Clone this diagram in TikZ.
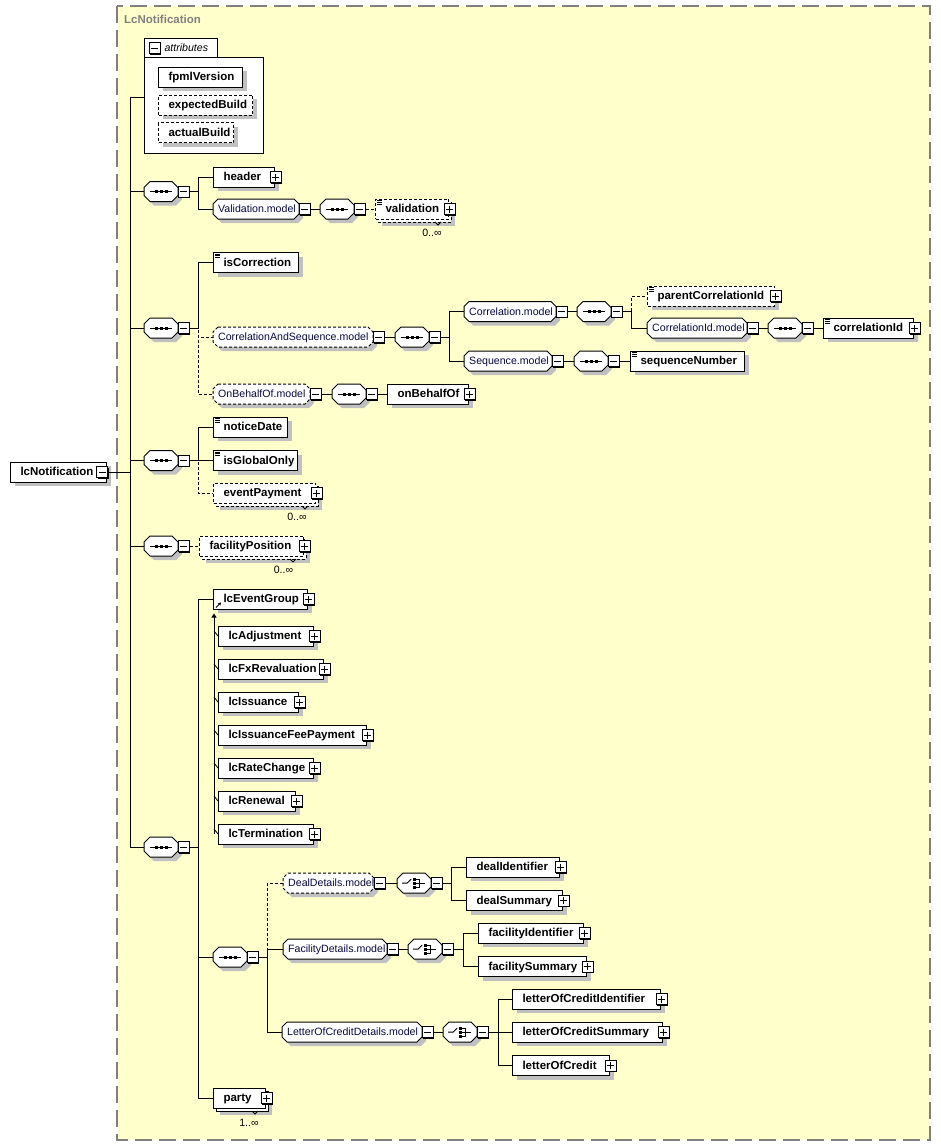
\documentclass[tikz,border=0pt]{standalone}
\usepackage{fontspec}
\setmainfont{Liberation Sans}
\usetikzlibrary{shadows,arrows.meta}
\definecolor{bgy}{RGB}{255,255,204}
\definecolor{bdg}{RGB}{128,128,128}
\definecolor{shg}{RGB}{192,192,192}
\definecolor{mdl}{RGB}{8,8,64}
\newcommand\bfnt{\fontsize{11.5}{13}\selectfont\bfseries}
\newcommand\rfnt{\fontsize{10.6}{12}\selectfont}
\tikzset{
 x=1pt,y=-1pt,
 lnk/.style={line width=1pt},
 shd/.style={drop shadow={shadow xshift=4pt,shadow yshift=-4pt,fill=shg,opacity=1}},
 dsh/.style={dash pattern=on 3pt off 2pt},
 elbox/.style={draw,lnk,fill=white,rectangle,minimum height=20,inner ysep=0,inner xsep=10,text height=8,text depth=1,align=left,font=\bfnt,anchor=west},
 mdtext/.style={rectangle,minimum height=20,inner ysep=0,inner xsep=5,text height=8,text depth=1,align=left,font=\rfnt,text=mdl,anchor=west},
 cpnode/.style={rectangle,minimum width=34,minimum height=20,inner sep=0,anchor=west},
 sqbox/.style={draw,fill=white,rectangle,minimum size=11,inner sep=0,line width=1pt,drop shadow={shadow xshift=1pt,shadow yshift=-1pt,fill=black,opacity=1}},
 plusb/.style={sqbox,path picture={\draw[line width=1pt] ([xshift=2pt]path picture bounding box.west)--([xshift=-2pt]path picture bounding box.east) ([yshift=-2pt]path picture bounding box.north)--([yshift=2pt]path picture bounding box.south);}},
 minusb/.style={sqbox,path picture={\draw[line width=1pt] ([xshift=2pt]path picture bounding box.west)--([xshift=-2pt]path picture bounding box.east);}},
 mult/.style={font=\rfnt,inner sep=0},
}
% octagon: [style]{x}{cy}{w}{chamfer}
\newcommand\Oct[5][]{%
 \fill[shg,xshift=4pt,yshift=-4pt] ({#2+#5},{#3-10}) -- ({#2+#4-#5},{#3-10}) -- ({#2+#4},{#3-10+#5}) -- ({#2+#4},{#3+10-#5}) -- ({#2+#4-#5},{#3+10}) -- ({#2+#5},{#3+10}) -- (#2,{#3+10-#5}) -- (#2,{#3-10+#5}) -- cycle;
 \draw[lnk,fill=white,#1] ({#2+#5},{#3-10}) -- ({#2+#4-#5},{#3-10}) -- ({#2+#4},{#3-10+#5}) -- ({#2+#4},{#3+10-#5}) -- ({#2+#4-#5},{#3+10}) -- ({#2+#5},{#3+10}) -- (#2,{#3+10-#5}) -- (#2,{#3-10+#5}) -- cycle;}
\newcommand\Mi[1]{\node[minusb] (#1m) at ([xshift=5.5pt]#1.east) {};}
\newcommand\Pl[1]{\node[plusb] (#1p) at ([xshift=0.5pt]#1.east) {};}
% element: [extra]{name}{x}{cy}{w}{text}
\newcommand\El[6][shd]{%
 \pgfmathsetmacro\tw{#5-20}%
 \node[elbox,minimum width=#5,text width=\tw pt,#1] (#2) at (#3,#4) {#6};}
% model group: [style]{name}{x}{cy}{w}{text}
\newcommand\Md[6][]{%
 \Oct[#1]{#3}{#4}{#5}{5}%
 \pgfmathsetmacro\tw{#5-10}%
 \node[mdtext,minimum width=#5,text width=\tw pt] (#2) at (#3,#4) {#6};
 \Mi{#2}}
% sequence compositor
\newcommand\Sq[3]{%
 \Oct{#2}{#3}{34}{6}%
 \node[cpnode] (#1) at (#2,#3) {};
 \draw[lnk] ([xshift=-11pt]#1.center) -- ([xshift=11pt]#1.center);
 \fill ([xshift=-6.5pt,yshift=1.5pt]#1.center) rectangle ++(3,3);
 \fill ([xshift=-1.5pt,yshift=1.5pt]#1.center) rectangle ++(3,3);
 \fill ([xshift=3.5pt,yshift=1.5pt]#1.center) rectangle ++(3,3);
 \Mi{#1}}
% choice compositor
\newcommand\Ch[3]{%
 \Oct{#2}{#3}{34}{6}%
 \node[cpnode] (#1) at (#2,#3) {};
 \draw[lnk] ([xshift=-12pt]#1.center) -- ([xshift=-7pt]#1.center) -- ([xshift=-3pt,yshift=4pt]#1.center);
 \fill ([xshift=-1pt,yshift=5.5pt]#1.center) rectangle ++(3,3);
 \fill ([xshift=-1pt,yshift=1.5pt]#1.center) rectangle ++(3,3);
 \fill ([xshift=-1pt,yshift=-2.5pt]#1.center) rectangle ++(3,3);
 \draw[lnk] ([xshift=2pt,yshift=4pt]#1.center) -- ++(3,0) -- ++(0,8) -- ++(-3,0);
 \draw[lnk] ([xshift=2pt]#1.center) -- ([xshift=11pt]#1.center);
 \Mi{#1}}
% stack behind multi-occurrence element: [style]{x}{cy}{w}
\newcommand\Stk[4][dsh]{%
 \fill[shg] ({#2+7},{#3-3}) rectangle ({#2+#4+7},{#3+17});
 \draw[lnk,fill=white,#1] ({#2+3},{#3-7}) rectangle ({#2+#4+3},{#3+13});
 \draw[line width=0.8pt] ({#2+#4-13},{#3+13}) -- ({#2+#4-10},{#3+16}) -- ({#2+#4-7},{#3+13});}
% simple type icon
\newcommand\Ic[1]{\draw[line width=0.7pt] ([xshift=2pt,yshift=-2pt]#1.north west) -- ++(5,0) ([xshift=2pt,yshift=-3.8pt]#1.north west) -- ++(5,0) ([xshift=2pt,yshift=-5.6pt]#1.north west) -- ++(5,0);}

\begin{document}
\begin{tikzpicture}
\useasboundingbox (0,0) rectangle (941,1146);
\fill[white] (0,0) rectangle (941,1146);
\draw[bdg,line width=1.3pt,dash pattern=on 17pt off 7pt,fill=bgy] (117,6) rectangle (930,1140);
\node[font=\bfnt,text=bdg,anchor=west,inner sep=0] (title) at (124,19) {LcNotification};

% root
\El{root}{10}{472}{96}{lcNotification}
\node[minusb] (rootm) at ([xshift=-5pt]root.east) {};

% attributes
\node[draw,lnk,fill=white,rectangle,minimum width=119,minimum height=96,anchor=north west,inner sep=0] (attr) at (144,57) {};
\node[draw,lnk,fill=white,rectangle,minimum height=19,inner ysep=0,inner xsep=5,text height=8,text depth=1,font=\rfnt\itshape,anchor=south west] (attrtab) at (144,57.5) {\makebox[63pt][l]{\hspace*{15pt}attributes}};
\node[minusb] (attrtabm) at (154.5,48) {};
\El{fpml}{158}{77}{84}{fpmlVersion}
\El[shd,dsh]{expb}{158}{105}{94}{expectedBuild}
\El[shd,dsh]{actb}{158}{132.5}{75}{actualBuild}

% seq 1
\Sq{sa}{144}{191.5}
\El{header}{213}{177}{61}{header}\Pl{header}
\Md{vmod}{213}{209}{86}{Validation.model}
\Sq{vseq}{320}{209}
\Stk{375}{209}{73}
\El[dsh]{validation}{375}{209}{73}{validation}\Pl{validation}\Ic{validation}
\node[mult] (validationmul) at (432,233) {0..∞};

% seq 2
\Sq{sb}{144}{328}
\El{iscor}{213}{262.5}{85}{isCorrection}\Ic{iscor}
\Md[dsh]{cas}{213}{337}{160}{CorrelationAndSequence.model}
\Sq{cseq}{395}{337}
\Md{corr}{464}{311.5}{92}{Correlation.model}
\Sq{crseq}{577}{311.5}
\El[shd,dsh]{pcid}{647}{296}{127}{parentCorrelationId}\Pl{pcid}\Ic{pcid}
\Md{cidmod}{647}{328}{100}{CorrelationId.model}
\Sq{cidseq}{768}{328}
\El{cid}{823}{328}{90}{correlationId}\Pl{cid}\Ic{cid}
\Md{seqmod}{464}{361}{88}{Sequence.model}
\Sq{sqseq}{574}{361}
\El{sqn}{630}{361}{114}{sequenceNumber}\Ic{sqn}
\Md[dsh]{obomod}{213}{394}{97}{OnBehalfOf.model}
\Sq{oboseq}{332}{394}
\El{obo}{387}{394}{81}{onBehalfOf}\Pl{obo}

% seq 3
\Sq{sc}{144}{460.5}
\El{ndate}{213}{427}{74}{noticeDate}\Ic{ndate}
\El{igo}{213}{460.5}{84}{isGlobalOnly}\Ic{igo}
\Stk{213}{493}{102}
\El[dsh]{evp}{213}{493}{102}{eventPayment}\Pl{evp}
\node[mult] (evpmul) at (297,517) {0..∞};

% seq 4
\Sq{sd}{144}{546}
\Stk{199}{546}{104}
\El[dsh]{facpos}{199}{546}{104}{facilityPosition}\Pl{facpos}
\node[mult] (facposmul) at (283.5,570) {0..∞};

% seq 5
\Sq{se}{144}{847}
\El{evg}{213}{599}{94}{lcEventGroup}\Pl{evg}
\draw[line width=1pt,-{Stealth[length=3pt,width=3.5pt]}] ([xshift=3pt,yshift=2pt]evg.south west) -- ++(5,-5);
\El{ladj}{218}{636}{95}{lcAdjustment}\Pl{ladj}
\El{lfx}{218}{669}{105}{lcFxRevaluation}\Pl{lfx}
\El{liss}{218}{702}{80}{lcIssuance}\Pl{liss}
\El{lifp}{218}{735}{148}{lcIssuanceFeePayment}\Pl{lifp}
\El{lrc}{218}{768}{95}{lcRateChange}\Pl{lrc}
\El{lren}{218}{801}{77}{lcRenewal}\Pl{lren}
\El{lterm}{218}{834}{95}{lcTermination}\Pl{lterm}
\draw[lnk,-{Triangle[length=4pt,width=5pt]}] ([xshift=-4pt]lterm.west) -- ([xshift=1pt,yshift=-4pt]evg.south west);
\foreach \m in {ladj,lfx,liss,lifp,lrc,lren,lterm}{\draw[line width=0.8pt] (\m.west) -- ++(-4,-5);}

\Sq{sf}{213}{957}
\Md[dsh]{deal}{283}{883}{91}{DealDetails.model}
\Ch{dch}{397}{883}
\El{did}{466}{867}{93}{dealIdentifier}\Pl{did}
\El{dsum}{466}{900.5}{96}{dealSummary}\Pl{dsum}
\Md{fac}{283}{949}{104}{FacilityDetails.model}
\Ch{fch}{408}{949}
\El{fid}{478}{933}{105}{facilityIdentifier}\Pl{fid}
\El{fsum}{478}{966.5}{108}{facilitySummary}\Pl{fsum}
\Md{locd}{282}{1032}{140}{LetterOfCreditDetails.model}
\Ch{lch}{443}{1032}
\El{locid}{512}{999}{148}{letterOfCreditIdentifier}\Pl{locid}
\El{locsum}{512}{1032}{150}{letterOfCreditSummary}\Pl{locsum}
\El{loc}{512}{1065.5}{97}{letterOfCredit}\Pl{loc}
\Stk[]{213}{1098}{52}
\El[]{party}{213}{1098}{52}{party}\Pl{party}
\node[mult] (partymul) at (249,1123) {1..∞};

% connectors: root and trunk
\draw[lnk] (root.east) -- ++(23,0) |- ([yshift=8pt]attr.west);
\foreach \s in {sa,sb,sc,sd,se}{\draw[lnk] (root.east) -- ++(23,0) |- (\s.west);}
% seq 1
\draw[lnk] (sam.east) -- ++(8.5,0) |- (header.west);
\draw[lnk] (sam.east) -- ++(8.5,0) |- (vmod.west);
\draw[lnk] (vmodm.east) -- (vseq.west);
\draw[lnk,dsh] (vseqm.east) -- (validation.west);
% seq 2
\draw[lnk,dsh] (sbm.east) -- ++(8.5,0) |- (obomod.west);
\draw[lnk,dsh] (sbm.east) -- ++(8.5,0) |- (cas.west);
\draw[lnk] (sbm.east) -- ++(8.5,0) |- (iscor.west);
\draw[lnk] (casm.east) -- (cseq.west);
\draw[lnk] (cseqm.east) -- ++(9,0) |- (corr.west);
\draw[lnk] (cseqm.east) -- ++(9,0) |- (seqmod.west);
\draw[lnk] (corrm.east) -- (crseq.west);
\draw[lnk,dsh] (crseqm.east) -- ++(9,0) |- (pcid.west);
\draw[lnk] (crseqm.east) -- ++(9,0) |- (cidmod.west);
\draw[lnk] (cidmodm.east) -- (cidseq.west);
\draw[lnk] (cidseqm.east) -- (cid.west);
\draw[lnk] (seqmodm.east) -- (sqseq.west);
\draw[lnk] (sqseqm.east) -- (sqn.west);
\draw[lnk] (obomodm.east) -- (oboseq.west);
\draw[lnk] (oboseqm.east) -- (obo.west);
% seq 3
\draw[lnk,dsh] (scm.east) -- ++(8.5,0) |- (evp.west);
\draw[lnk] (scm.east) -- ++(8.5,0) |- (ndate.west);
\draw[lnk] (scm.east) -- (igo.west);
% seq 4
\draw[lnk,dsh] (sdm.east) -- (facpos.west);
% seq 5
\draw[lnk] (sem.east) -- ++(9,0) |- (evg.west);
\draw[lnk] (sem.east) -- ++(9,0) |- (sf.west);
\draw[lnk] (sem.east) -- ++(9,0) |- (party.west);
\draw[lnk,dsh] (sfm.east) -- ++(8.5,0) |- (deal.west);
\draw[lnk] (sfm.east) -- ++(8.5,0) |- (fac.west);
\draw[lnk] (sfm.east) -- ++(8.5,0) |- (locd.west);
\draw[lnk] (dealm.east) -- (dch.west);
\draw[lnk] (dchm.east) -- ++(9,0) |- (did.west);
\draw[lnk] (dchm.east) -- ++(9,0) |- (dsum.west);
\draw[lnk] (facm.east) -- (fch.west);
\draw[lnk] (fchm.east) -- ++(9.5,0) |- (fid.west);
\draw[lnk] (fchm.east) -- ++(9.5,0) |- (fsum.west);
\draw[lnk] (locdm.east) -- (lch.west);
\draw[lnk] (lchm.east) -- ++(9.5,0) |- (locid.west);
\draw[lnk] (lchm.east) -- ++(9.5,0) |- (locsum.west);
\draw[lnk] (lchm.east) -- ++(9.5,0) |- (loc.west);
\end{tikzpicture}
\end{document}
